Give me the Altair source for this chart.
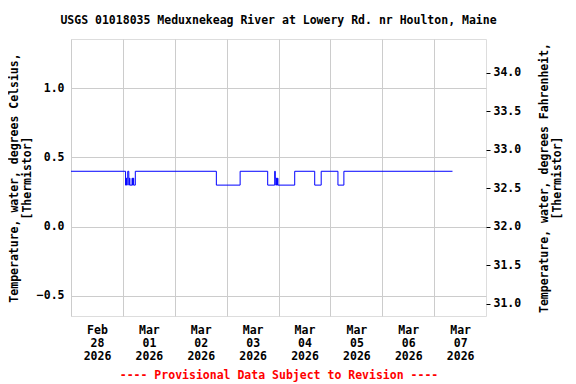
import altair as alt
import pandas as pd

# Step change points of water temperature (degrees Celsius)
times = [
    "2026-02-28T00:00:00Z",
    "2026-03-01T01:15:00Z", "2026-03-01T01:30:00Z", "2026-03-01T01:45:00Z",
    "2026-03-01T02:00:00Z", "2026-03-01T02:15:00Z", "2026-03-01T02:45:00Z",
    "2026-03-01T03:00:00Z", "2026-03-01T03:15:00Z", "2026-03-01T04:15:00Z",
    "2026-03-01T04:30:00Z", "2026-03-01T04:45:00Z", "2026-03-01T05:00:00Z",
    "2026-03-01T05:45:00Z",
    "2026-03-02T19:15:00Z",
    "2026-03-03T06:15:00Z",
    "2026-03-03T19:00:00Z",
    "2026-03-03T22:15:00Z", "2026-03-03T22:30:00Z", "2026-03-03T22:45:00Z",
    "2026-03-03T23:00:00Z", "2026-03-03T23:15:00Z", "2026-03-03T23:30:00Z",
    "2026-03-03T23:45:00Z",
    "2026-03-04T07:30:00Z",
    "2026-03-04T16:45:00Z",
    "2026-03-04T19:45:00Z",
    "2026-03-05T03:30:00Z",
    "2026-03-05T06:15:00Z",
    "2026-03-07T08:30:00Z",
]
temps_c = [
    0.4,
    0.3, 0.35, 0.3,
    0.35, 0.4, 0.3,
    0.35, 0.3, 0.35,
    0.3, 0.35, 0.3,
    0.4,
    0.3,
    0.4,
    0.3,
    0.4, 0.35, 0.3,
    0.35, 0.3, 0.35,
    0.3,
    0.4,
    0.3,
    0.4,
    0.3,
    0.4,
    0.4,
]

left_ticks = [-0.5, 0.0, 0.5, 1.0]
right_ticks = [31.0, 31.5, 32.0, 32.5, 33.0, 33.5, 34.0]
c_domain = [-0.645, 1.355]
f_domain = [32 + 1.8 * c_domain[0], 32 + 1.8 * c_domain[1]]
day_dates = [(2, 28), (3, 1), (3, 2), (3, 3), (3, 4), (3, 5), (3, 6), (3, 7)]

title_text = "USGS 01018035 Meduxnekeag River at Lowery Rd. nr Houlton, Maine"
footer_text = "---- Provisional Data Subject to Revision ----"
left_title = ["Temperature, water, degrees Celsius,", "[Thermistor]"]
right_title = ["Temperature, water, degrees Fahrenheit,", "[Thermistor]"]

df = pd.DataFrame({"time": times, "temp_c": temps_c})

FONT = "DejaVu Sans Mono"
FS = 11.5

x_domain = [
    alt.DateTime(year=2026, month=2, date=28, utc=True),
    alt.DateTime(year=2026, month=3, date=8, utc=True),
]
x_values = [alt.DateTime(year=2026, month=m, date=d, utc=True) for m, d in day_dates]

x_enc = alt.X(
    "time:T",
    scale=alt.Scale(type="utc", domain=x_domain),
    axis=alt.Axis(
        values=x_values,
        labelExpr="[utcFormat(datum.value, '%b'), utcFormat(datum.value, '%d'), utcFormat(datum.value, '%Y')]",
        labelOffset=26,
        labelFlush=False,
        labelOverlap=False,
        labelAlign="center",
        labelBaseline="top",
        labelPadding=8,
        labelLineHeight=13,
        labelFont=FONT,
        labelFontSize=FS,
        labelFontWeight="bold",
        labelColor="black",
        ticks=False,
        domain=False,
        grid=True,
        gridColor="#cccccc",
        gridWidth=1,
        title=footer_text,
        titleColor="#ff0000",
        titleFont=FONT,
        titleFontSize=FS,
        titleFontWeight="bold",
        titlePadding=8,
    ),
)

base = alt.Chart(df)

left = base.mark_line(color="#0000ff", strokeWidth=1, interpolate="step-after").encode(
    x=x_enc,
    y=alt.Y(
        "temp_c:Q",
        scale=alt.Scale(domain=c_domain, nice=False, zero=False),
        axis=alt.Axis(
            values=left_ticks,
            format=".1f",
            ticks=False,
            tickSize=0,
            domain=False,
            grid=True,
            gridColor="#cccccc",
            labelPadding=7,
            labelFont=FONT,
            labelFontSize=FS,
            labelFontWeight="bold",
            labelColor="black",
            title=left_title,
            titleFont=FONT,
            titleFontSize=FS,
            titleFontWeight="bold",
            titleColor="black",
            titleLineHeight=13,
            titlePadding=4,
        ),
    ),
)

right = base.transform_calculate(temp_f="32 + 1.8 * datum.temp_c").mark_line(
    opacity=0, interpolate="step-after"
).encode(
    x=alt.X("time:T"),
    y=alt.Y(
        "temp_f:Q",
        scale=alt.Scale(domain=f_domain, nice=False, zero=False),
        axis=alt.Axis(
            orient="right",
            values=right_ticks,
            format=".1f",
            grid=False,
            domain=False,
            ticks=True,
            tickSize=4,
            tickColor="black",
            labelPadding=3,
            labelFont=FONT,
            labelFontSize=FS,
            labelFontWeight="bold",
            labelColor="black",
            title=right_title,
            titleAngle=270,
            titleFont=FONT,
            titleFontSize=FS,
            titleFontWeight="bold",
            titleColor="black",
            titleLineHeight=13,
            titlePadding=16,
        ),
    ),
)

chart = (
    alt.layer(left, right)
    .resolve_scale(y="independent")
    .properties(
        width=415,
        height=277,
        padding={"left": 63, "top": 31, "right": 82, "bottom": 68},
        autosize=alt.AutoSizeParams(type="none"),
        title=alt.Title(
            title_text,
            font=FONT,
            fontSize=FS,
            fontWeight="bold",
            color="black",
            anchor="middle",
            offset=13,
        ),
    )
    .configure_view(stroke="black", strokeWidth=1.5)
    .configure(background="white")
)

chart.save("out.html", embed_options={"renderer": "svg", "actions": False})
